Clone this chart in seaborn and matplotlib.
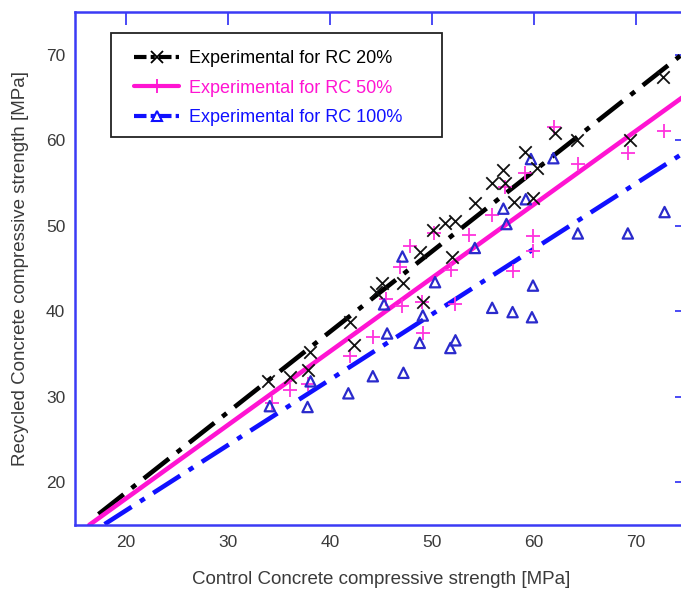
import numpy as np
import pandas as pd
import matplotlib
matplotlib.use("Agg")
import matplotlib.pyplot as plt
from matplotlib.lines import Line2D
from matplotlib.patches import Rectangle
import seaborn as sns

# ---------------- data ----------------
rc20_x = [33.9, 36.1, 37.8, 38.0, 42.0, 42.4, 44.5, 45.1, 47.2, 49.1, 48.8, 50.1, 51.3,
          52.3, 52.0, 54.2, 55.9, 57.0, 57.2, 58.0, 59.1, 59.9, 60.3, 62.1, 64.2, 69.4, 72.6]
rc20_y = [31.8, 32.3, 33.1, 35.2, 38.7, 36.0, 42.3, 43.3, 43.3, 41.1, 46.9, 49.5, 50.3,
          50.6, 46.3, 52.7, 55.0, 56.5, 55.0, 52.8, 58.6, 53.2, 56.7, 60.9, 60.0, 60.0, 67.4]

rc50_x = [34.3, 36.1, 37.8, 42.0, 44.2, 45.5, 47.1, 49.0, 49.1, 52.3, 46.9, 47.8, 50.2,
          51.9, 53.6, 55.9, 57.2, 59.1, 57.9, 59.9, 59.9, 62.0, 64.3, 69.2, 72.7]
rc50_y = [29.3, 30.8, 31.5, 34.8, 37.0, 41.4, 40.6, 41.1, 37.4, 40.9, 45.2, 47.6, 49.1,
          44.8, 48.9, 51.2, 54.5, 56.2, 44.7, 48.8, 47.1, 61.6, 57.2, 58.5, 61.1]

rc100_x = [34.1, 37.8, 38.1, 41.8, 44.2, 47.2, 45.3, 45.6, 48.8, 49.1, 50.3, 51.8, 52.3,
           55.9, 57.9, 59.8, 59.9, 47.1, 54.2, 57.3, 57.0, 59.2, 59.7, 61.9, 64.3, 69.2, 72.8]
rc100_y = [28.9, 28.8, 31.8, 30.4, 32.4, 32.8, 40.8, 37.4, 36.3, 39.5, 43.4, 35.7, 36.6,
           40.4, 39.9, 39.3, 43.0, 46.4, 47.4, 50.2, 52.0, 53.1, 57.8, 57.9, 49.1, 49.1, 51.6]

# fitted trend lines: slope, intercept, x-range
fit_slope = [0.94, 0.86, 0.765]
fit_icpt = [0.0, 0.9, 1.4]
fit_xmin = [17.3, 16.4, 17.9]
fit_xmax = [76.0, 76.0, 76.0]

labels = ["Experimental for RC 20%", "Experimental for RC 50%", "Experimental for RC 100%"]
x_ticks = [20, 30, 40, 50, 60, 70]
y_ticks = [20, 30, 40, 50, 60, 70]

# ---------------- styling ----------------
colors = ["#000000", "#ff14d2", "#1010ff"]
mcolors = ["#111111", "#ff33dd", "#2a2acc"]
spine_col = "#3b3bf5"
text_col = "#3a3a3a"

sns.set_theme(style="white")
plt.rcParams["font.family"] = ["Liberation Sans", "DejaVu Sans"]

fig = plt.figure(figsize=(6.81, 5.92), dpi=100)
ax = fig.add_axes([75 / 681, 67 / 592, 612 / 681, 513 / 592])

# trend lines
line_styles = [(0, (7, 2.2, 1.2, 2.2)), "-", (0, (7, 2.2, 1.2, 2.2))]
for i in range(3):
    xs = np.linspace(fit_xmin[i], fit_xmax[i], 50)
    d = pd.DataFrame({"x": xs, "y": fit_slope[i] * xs + fit_icpt[i]})
    sns.lineplot(data=d, x="x", y="y", ax=ax, color=colors[i], linewidth=3.3,
                 linestyle=line_styles[i], zorder=2, legend=False)

# scatter points
df20 = pd.DataFrame({"x": rc20_x, "y": rc20_y})
df50 = pd.DataFrame({"x": rc50_x, "y": rc50_y})
df100 = pd.DataFrame({"x": rc100_x, "y": rc100_y})
sns.scatterplot(data=df50, x="x", y="y", ax=ax, marker="+", s=110, color=mcolors[1],
                linewidth=1.3, zorder=3, legend=False)
sns.scatterplot(data=df100, x="x", y="y", ax=ax, marker="^", s=55, facecolors="none",
                edgecolor=mcolors[2], linewidth=1.6, zorder=3, legend=False)
sns.scatterplot(data=df20, x="x", y="y", ax=ax, marker="x", s=80, color=mcolors[0],
                linewidth=1.3, zorder=4, legend=False)

ax.set_xlim(15, 75)
ax.set_ylim(15, 75)
ax.set_xticks(x_ticks)
ax.set_yticks(y_ticks)
ax.tick_params(axis="both", direction="in", length=9, width=1.3, color=spine_col,
               labelsize=12.5, labelcolor=text_col, top=True, right=True, pad=7)
for sp in ax.spines.values():
    sp.set_color(spine_col)
    sp.set_linewidth(1.8)
ax.set_xlabel("Control Concrete compressive strength [MPa]", fontsize=13.5,
              color=text_col, labelpad=15)
ax.set_ylabel("Recycled Concrete compressive strength [MPa]", fontsize=13.5,
              color=text_col, labelpad=12)

# legend (frame drawn separately so its padding matches the reference)
frame = Rectangle((36 / 612, 388 / 513), 331 / 612, 104 / 513, transform=ax.transAxes,
                  facecolor="white", edgecolor="#222222", linewidth=1.3, zorder=5)
ax.add_patch(frame)
handles = [
    Line2D([], [], color=colors[0], lw=3, linestyle=(0, (3, 1, 1, 1)), marker="x",
           markersize=8, markeredgewidth=1.3),
    Line2D([], [], color=colors[1], lw=3, linestyle="-", marker="+",
           markersize=10, markeredgewidth=1.3),
    Line2D([], [], color=colors[2], lw=3, linestyle=(0, (3, 1, 1, 1)), marker="^",
           markersize=7, markerfacecolor="none", markeredgewidth=1.5),
]
leg = ax.legend(handles, labels, loc="upper left",
                bbox_to_anchor=(59 / 612, (525 - 50) / 513),
                fontsize=13, frameon=False, handlelength=2.5, handletextpad=0.55,
                borderpad=0, labelspacing=0.7, borderaxespad=0)
leg.set_zorder(6)
for t, c in zip(leg.get_texts(), colors):
    t.set_color(c)

fig.savefig("out.png", dpi=100)
